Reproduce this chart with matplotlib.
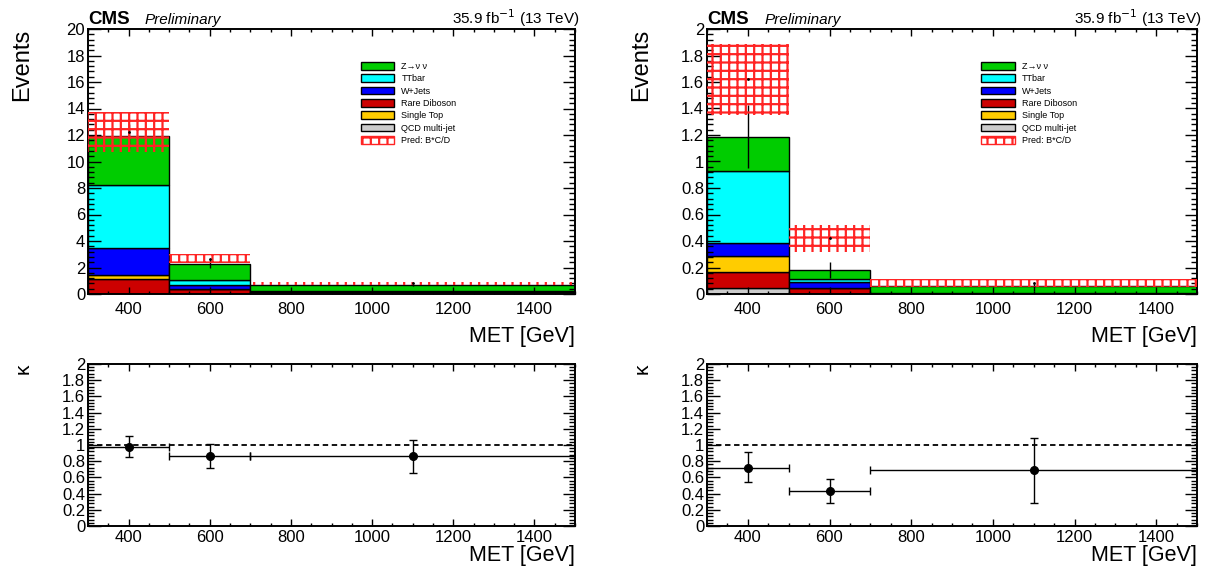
import numpy as np
import matplotlib
matplotlib.use("Agg")
import matplotlib.pyplot as plt
from matplotlib.patches import Patch
from matplotlib.ticker import MultipleLocator, FormatStrFormatter

plt.rcParams['font.family'] = ['Liberation Sans', 'DejaVu Sans']
plt.rcParams['hatch.linewidth'] = 1.6

# MET binning
edges = np.array([300, 500, 700, 1500])

# Background composition (bottom to top of the stack)
labels = ["QCD multi-jet", "Rare Diboson", "Single Top", "W+Jets", "TTbar", "Z\u2192\u03bd \u03bd"]
colors = ["#cccccc", "#cc0000", "#ffcc00", "#0000ff", "#00ffff", "#00cc00"]
# order in which the processes are listed in the legend
legend_order = ["Z\u2192\u03bd \u03bd", "TTbar", "W+Jets", "Rare Diboson", "Single Top", "QCD multi-jet"]

# left region
qcd_l = [0.0, 0.0, 0.0]
diboson_l = [1.13, 0.38, 0.18]
singletop_l = [0.32, 0.02, 0.01]
wjets_l = [2.02, 0.30, 0.02]
ttbar_l = [4.77, 0.38, 0.02]
znn_l = [3.71, 1.20, 0.45]
mcerr_l = [0.90, 0.35, 0.05]
pred_l = [12.2, 2.67, 0.80]
prederr_l = [1.50, 0.33, 0.12]
kappa_l = [0.98, 0.86, 0.86]
kappa_up_l = [0.13, 0.15, 0.20]
kappa_dn_l = [0.13, 0.14, 0.20]

# right region
qcd_r = [0.045, 0.0, 0.0]
diboson_r = [0.12, 0.045, 0.004]
singletop_r = [0.12, 0.0, 0.0]
wjets_r = [0.10, 0.043, 0.003]
ttbar_r = [0.54, 0.022, 0.0]
znn_r = [0.263, 0.073, 0.05]
mcerr_r = [0.24, 0.06, 0.035]
pred_r = [1.62, 0.42, 0.083]
prederr_r = [0.27, 0.10, 0.03]
kappa_r = [0.72, 0.43, 0.69]
kappa_up_r = [0.19, 0.15, 0.40]
kappa_dn_r = [0.18, 0.15, 0.40]

HATCH_RED = "#ff2424"

fig = plt.figure(figsize=(12.08, 5.72), dpi=100)


def style_axis(ax, ymax, ymajor, yminor, ylen, xlen):
    ax.set_xlim(edges[0], edges[-1])
    ax.set_ylim(0, ymax)
    ax.xaxis.set_major_locator(MultipleLocator(200))
    ax.xaxis.set_minor_locator(MultipleLocator(50))
    ax.yaxis.set_major_locator(MultipleLocator(ymajor))
    ax.yaxis.set_minor_locator(MultipleLocator(yminor))
    ax.yaxis.set_major_formatter(FormatStrFormatter('%g'))
    ax.tick_params(which='both', direction='in', top=True, right=True, labelsize=12, width=1)
    ax.tick_params(axis='y', which='major', length=ylen)
    ax.tick_params(axis='y', which='minor', length=ylen / 2)
    ax.tick_params(axis='x', which='major', length=xlen, pad=6)
    ax.tick_params(axis='x', which='minor', length=xlen / 2)
    ax.tick_params(axis='y', pad=2)
    for s in ax.spines.values():
        s.set_linewidth(1.4)


def draw_main(ax, stack, mcerr, pred, prederr, ymax, ymajor, yminor):
    widths = np.diff(edges)
    centers = 0.5 * (edges[:-1] + edges[1:])
    bottom = np.zeros(len(widths))
    for vals, col in zip(stack, colors):
        vals = np.asarray(vals)
        ax.bar(edges[:-1], vals, width=widths, bottom=bottom, align='edge',
               color=col, edgecolor='black', linewidth=1.0)
        bottom = bottom + vals
    total = bottom
    mcerr = np.asarray(mcerr)
    ax.vlines(centers, total - mcerr, total + mcerr, color='black', lw=1.0, zorder=4)
    pred = np.asarray(pred)
    prederr = np.asarray(prederr)
    ax.bar(edges[:-1], 2 * prederr, width=widths, bottom=pred - prederr, align='edge',
           fill=False, hatch='++', edgecolor=HATCH_RED, linewidth=0, zorder=5)
    ax.plot(centers, pred, 'k.', ms=2, zorder=6)
    style_axis(ax, ymax, ymajor, yminor, ylen=9, xlen=5)

    color_of = dict(zip(labels, colors))
    handles = [Patch(facecolor=color_of[name], edgecolor='black', linewidth=1.0)
               for name in legend_order]
    handles.append(Patch(facecolor='white', edgecolor=HATCH_RED, hatch='++', linewidth=1.0))
    ax.legend(handles, legend_order + ["Pred: B*C/D"], loc='upper left',
              bbox_to_anchor=(0.56, 0.876), frameon=False, fontsize=6.5,
              handlelength=3.7, handleheight=0.95, labelspacing=0.37,
              handletextpad=0.8, borderpad=0, borderaxespad=0)

    ax.text(0.0, 1.018, "CMS", transform=ax.transAxes, fontsize=13.5,
            fontweight='bold', ha='left', va='baseline')
    ax.text(0.117, 1.018, "Preliminary", transform=ax.transAxes, fontsize=11,
            style='italic', ha='left', va='baseline')
    ax.text(1.01, 1.018, "35.9 fb$^{-1}$ (13 TeV)", transform=ax.transAxes,
            fontsize=11, ha='right', va='baseline')
    ax.set_xlabel("MET [GeV]", loc='right', fontsize=15.5, labelpad=6)
    ax.set_ylabel("Events", loc='top', fontsize=17)
    ax.yaxis.set_label_coords(-0.112, 1.0)


def draw_ratio(ax, kappa, up, dn):
    centers = 0.5 * (edges[:-1] + edges[1:])
    xerr = [centers - edges[:-1], edges[1:] - centers]
    ax.axhline(1.0, color='black', ls=(0, (3, 2)), lw=1.3, zorder=1)
    ax.errorbar(centers, kappa, yerr=[dn, up], xerr=xerr, fmt='o', color='black',
                ms=5.5, elinewidth=1.0, capsize=3, capthick=1.0, zorder=3)
    style_axis(ax, 2, 0.2, 0.04, ylen=9, xlen=5)
    ax.tick_params(axis='x', which='major', pad=3)
    ax.set_xlabel("MET [GeV]", loc='right', fontsize=15.5, labelpad=0)
    ax.set_ylabel("\u03ba", loc='top', fontsize=15)
    ax.yaxis.set_label_coords(-0.113, 1.0)


W = 1208.0
H = 572.0
main_l = fig.add_axes([88 / W, 1 - 294 / H, 487 / W, 265 / H])
main_r = fig.add_axes([707 / W, 1 - 294 / H, 490 / W, 265 / H])
ratio_l = fig.add_axes([88 / W, 1 - 526 / H, 487 / W, 162 / H])
ratio_r = fig.add_axes([707 / W, 1 - 526 / H, 490 / W, 162 / H])

draw_main(main_l, [qcd_l, diboson_l, singletop_l, wjets_l, ttbar_l, znn_l],
          mcerr_l, pred_l, prederr_l, 20, 2, 0.4)
draw_main(main_r, [qcd_r, diboson_r, singletop_r, wjets_r, ttbar_r, znn_r],
          mcerr_r, pred_r, prederr_r, 2, 0.2, 0.04)
draw_ratio(ratio_l, kappa_l, kappa_up_l, kappa_dn_l)
draw_ratio(ratio_r, kappa_r, kappa_up_r, kappa_dn_r)

fig.savefig("out.png", dpi=100)
